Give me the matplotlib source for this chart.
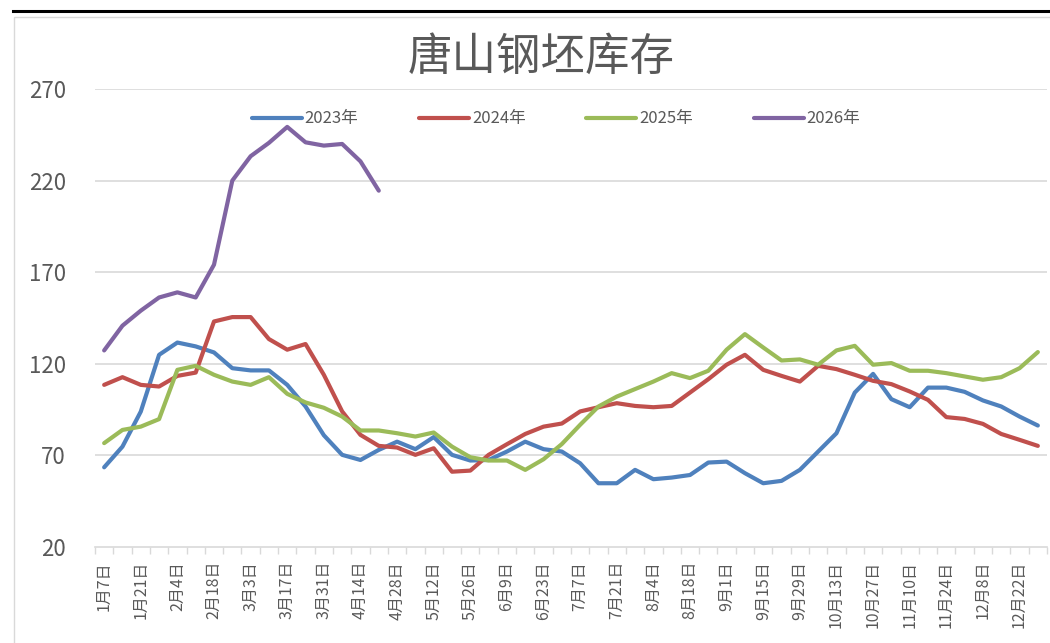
import matplotlib
matplotlib.use("Agg")
import matplotlib.pyplot as plt
from matplotlib.lines import Line2D
from matplotlib.patches import Rectangle

plt.rcParams['font.family'] = ['Noto Sans CJK SC', 'DejaVu Sans']

title = "唐山钢坯库存"
series_names = ["2023年", "2024年", "2025年", "2026年"]
colors = ["#4F81BD", "#C0504D", "#9BBB59", "#8064A2"]

tick_labels = ["1月7日", "1月21日", "2月4日", "2月18日", "3月3日", "3月17日", "3月31日",
               "4月14日", "4月28日", "5月12日", "5月26日", "6月9日", "6月23日", "7月7日",
               "7月21日", "8月4日", "8月18日", "9月1日", "9月15日", "9月29日", "10月13日",
               "10月27日", "11月10日", "11月24日", "12月8日", "12月22日"]

s2023 = [63.5, 74.8, 93.9, 124.9, 131.6, 129.5, 126.2, 117.6, 116.4, 116.4,
         108.5, 96.7, 81.0, 70.3, 67.5, 73.0, 77.5, 73.4, 80.0, 70.3,
         67.2, 67.5, 72.1, 77.5, 73.4, 72.1, 65.7, 54.8, 54.8, 62.1,
         57.0, 57.9, 59.3, 66.1, 66.6, 60.3, 54.8, 56.1, 62.1, 72.1,
         82.1, 104.3, 114.5, 100.7, 96.3, 107.0, 107.0, 104.7, 100.0, 96.7,
         91.2, 86.3]
s2024 = [108.5, 112.7, 108.5, 107.6, 113.4, 115.2, 143.1, 145.5, 145.5, 133.5,
         127.7, 130.8, 114.0, 94.0, 81.2, 75.2, 74.3, 70.3, 73.9, 61.1,
         61.7, 70.3, 76.1, 81.7, 85.7, 87.4, 94.0, 96.3, 98.5, 97.0,
         96.3, 97.0, 104.3, 111.6, 119.5, 124.9, 116.7, 113.4, 110.3, 118.9,
         117.1, 114.0, 110.7, 108.9, 104.9, 100.3, 90.9, 89.9, 87.2, 81.7,
         78.5, 75.2]
s2025 = [76.7, 83.9, 85.7, 89.8, 116.7, 118.9, 114.0, 110.3, 108.5, 112.7,
         103.6, 98.9, 96.0, 91.2, 83.6, 83.6, 82.1, 80.3, 82.5, 74.8,
         69.0, 67.2, 67.2, 62.1, 67.9, 76.2, 86.7, 96.7, 102.1, 106.2,
         110.3, 114.9, 112.2, 116.2, 127.7, 136.2, 128.9, 121.8, 122.4, 119.5,
         127.3, 129.8, 119.5, 120.4, 116.2, 116.2, 114.9, 113.1, 111.3, 112.7,
         117.6, 126.4]
s2026 = [127.3, 140.8, 149.0, 156.2, 159.0, 156.2, 174.1, 220.0, 233.3, 240.6,
         249.3, 240.9, 239.1, 240.0, 230.5, 214.5]

data = [s2023, s2024, s2025, s2026]
yticks = [20, 70, 120, 170, 220, 270]

W, H = 1050, 643
fig = plt.figure(figsize=(W / 100, H / 100), dpi=100)

# outer decorations
fig.add_artist(Line2D([13 / W, 1.0], [1 - 11 / H, 1 - 11 / H], color="black", lw=2.2))
fig.add_artist(Rectangle((14 / W, -0.01), 1.0, 1 - 17 / H + 0.01, fill=False,
                         edgecolor="#D9D9D9", lw=1.0))

ax = fig.add_axes([95 / W, 1 - 547 / H, (1047 - 95) / W, (547 - 89) / H])

for vals, name, c in zip(data, series_names, colors):
    ax.plot(range(len(vals)), vals, color=c, lw=3.0, label=name,
            solid_capstyle="round", solid_joinstyle="round")

n = 52
ax.set_xlim(-0.5, n - 0.5)
ax.set_ylim(20, 270)
ax.set_yticks(yticks)
ax.set_yticklabels([str(v) for v in yticks], fontsize=16, color="#595959")
ax.set_xticks(range(0, n, 2))
ax.set_xticklabels(tick_labels, rotation=90, fontsize=11.5, color="#595959")
ax.set_xticks([i - 0.5 for i in range(n + 1)], minor=True)
ax.tick_params(axis="x", which="major", length=0, pad=10)
ax.tick_params(axis="x", which="minor", length=5, color="#D9D9D9", width=1)
ax.tick_params(axis="y", length=0, pad=21)

for v in yticks[1:]:
    ax.axhline(v, color="#D9D9D9", lw=1.2, zorder=0)

for s in ["top", "right", "left"]:
    ax.spines[s].set_visible(False)
ax.spines["bottom"].set_color("#D9D9D9")
ax.spines["bottom"].set_linewidth(1.2)

fig.text(541 / W, 1 - 57 / H, title, fontsize=32, color="#595959",
         ha="center", va="center", fontweight="light")

leg = ax.legend(loc="center", bbox_to_anchor=((556 - 95) / (1047 - 95), (547 - 119) / (547 - 89)),
                ncol=4, frameon=False, fontsize=12, handlelength=3.0,
                columnspacing=3.65, handletextpad=0.15)
for t in leg.get_texts():
    t.set_color("#595959")

fig.savefig("out.png", dpi=100)
